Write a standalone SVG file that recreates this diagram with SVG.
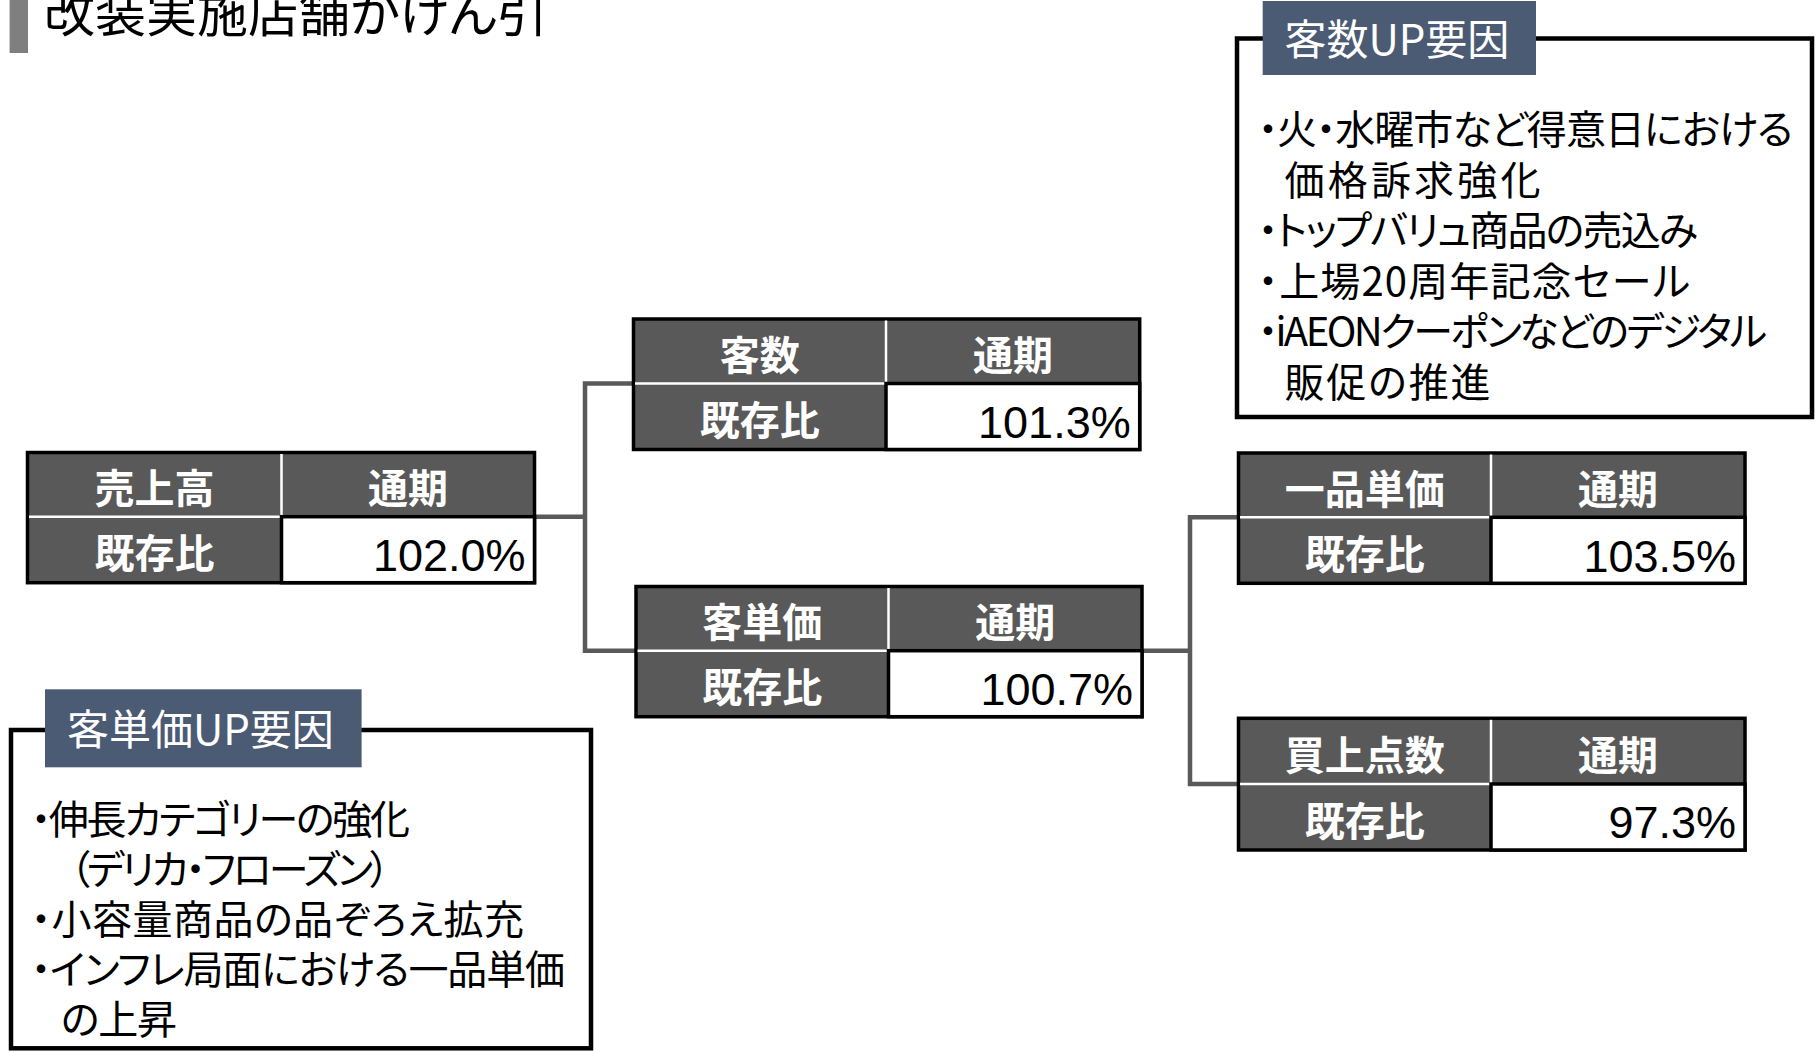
<svg xmlns="http://www.w3.org/2000/svg" width="1816" height="1052" viewBox="0 0 1816 1052">
<style>
  .ttl { font-family: 'Noto Sans CJK JP', sans-serif; font-size: 51px; fill: #000; font-feature-settings: "palt"; }
  .hd { font-family: 'Noto Sans CJK JP', sans-serif; font-weight: 700; font-size: 40px; fill: #fff; text-anchor: middle; }
  .val { font-family: 'Liberation Sans', Arial, sans-serif; font-size: 45px; fill: #000; text-anchor: end; }
  .tbl { fill: #595959; stroke: #000; stroke-width: 3.5; }
  .cell { fill: #fff; stroke: #000; stroke-width: 3.5; }
  .sep { stroke: #fff; stroke-width: 2.5; }
  .conn { fill: none; stroke: #5a5a5a; stroke-width: 4.5; }
  .box { fill: #fff; stroke: #000; stroke-width: 4.5; }
  .lbl { fill: #4B5B73; }
  .lbltxt { font-family: 'Noto Sans CJK JP', sans-serif; font-size: 42px; fill: #fff; }
  .body { font-family: 'Noto Sans CJK JP', sans-serif; font-size: 40px; fill: #000; font-feature-settings: "palt"; }
</style>

<g id="title">
  <rect x="9.6" y="0" width="18.4" height="53" fill="#7f7f7f"/>
  <text class="ttl" x="44" y="32">改装実施店舗かけん引</text>
</g>

<g id="connectors">
  <path class="conn" d="M534.5 516.7 H585 M633.5 383.5 H585 V650.7 H636"/>
  <path class="conn" d="M1142 650.7 H1190 M1238.5 517.3 H1190 V784 H1238.5"/>
</g>

<g id="node-sales">
  <rect class="tbl" x="27.5" y="452.5" width="507" height="130.2"/>
  <line class="sep" x1="281.5" y1="454" x2="281.5" y2="516.7"/>
  <line class="sep" x1="29" y1="516.7" x2="281.5" y2="516.7"/>
  <rect class="cell" x="281.5" y="516.7" width="253" height="66"/>
  <text class="hd" x="154.5" y="503">売上高</text>
  <text class="hd" x="408" y="503">通期</text>
  <text class="hd" x="154.5" y="568.2">既存比</text>
  <text class="val" x="525.5" y="571">102.0%</text>
</g>

<g id="node-customers">
  <rect class="tbl" x="633.5" y="319" width="506.2" height="130.5"/>
  <line class="sep" x1="886" y1="320.5" x2="886" y2="383.5"/>
  <line class="sep" x1="635" y1="383.5" x2="886" y2="383.5"/>
  <rect class="cell" x="886" y="383.5" width="253.7" height="66"/>
  <text class="hd" x="759.8" y="369.8">客数</text>
  <text class="hd" x="1012.9" y="369.8">通期</text>
  <text class="hd" x="759.8" y="435">既存比</text>
  <text class="val" x="1130.7" y="437.8">101.3%</text>
</g>

<g id="node-unit-price">
  <rect class="tbl" x="636" y="586.5" width="506" height="130.2"/>
  <line class="sep" x1="888.5" y1="588" x2="888.5" y2="650.7"/>
  <line class="sep" x1="637.5" y1="650.7" x2="888.5" y2="650.7"/>
  <rect class="cell" x="888.5" y="650.7" width="253.5" height="66"/>
  <text class="hd" x="762.3" y="637">客単価</text>
  <text class="hd" x="1015.3" y="637">通期</text>
  <text class="hd" x="762.3" y="702.2">既存比</text>
  <text class="val" x="1133" y="705">100.7%</text>
</g>

<g id="node-item-price">
  <rect class="tbl" x="1238.5" y="453" width="506.5" height="130.3"/>
  <line class="sep" x1="1491" y1="454.5" x2="1491" y2="517.3"/>
  <line class="sep" x1="1240" y1="517.3" x2="1491" y2="517.3"/>
  <rect class="cell" x="1491" y="517.3" width="254" height="66"/>
  <text class="hd" x="1364.8" y="503.6">一品単価</text>
  <text class="hd" x="1618" y="503.6">通期</text>
  <text class="hd" x="1364.8" y="568.8">既存比</text>
  <text class="val" x="1736" y="571.6">103.5%</text>
</g>

<g id="node-items">
  <rect class="tbl" x="1238.5" y="718.3" width="506.5" height="131.7"/>
  <line class="sep" x1="1491" y1="719.8" x2="1491" y2="784"/>
  <line class="sep" x1="1240" y1="784" x2="1491" y2="784"/>
  <rect class="cell" x="1491" y="784" width="254" height="66"/>
  <text class="hd" x="1364.8" y="770.3">買上点数</text>
  <text class="hd" x="1618" y="770.3">通期</text>
  <text class="hd" x="1364.8" y="835.5">既存比</text>
  <text class="val" x="1736" y="838.3">97.3%</text>
</g>

<g id="callout-customers">
  <rect class="box" x="1237" y="38.5" width="575" height="378.5"/>
  <rect class="lbl" x="1262.7" y="1" width="273.3" height="74"/>
  <text class="lbltxt" x="1284.5" y="55">客数UP要因</text>
  <text class="body">
    <tspan x="1258" y="144" textLength="535">・火・水曜市など得意日における</tspan>
    <tspan x="1284.5" y="194.6" textLength="256">価格訴求強化</tspan>
    <tspan x="1258" y="245.2" textLength="440">・トップバリュ商品の売込み</tspan>
    <tspan x="1258" y="295.8" textLength="432">・上場20周年記念セール</tspan>
    <tspan x="1258" y="346.4" textLength="509">・iAEONクーポンなどのデジタル</tspan>
    <tspan x="1284.5" y="397" textLength="206">販促の推進</tspan>
  </text>
</g>

<g id="callout-unit-price">
  <rect class="box" x="11" y="730" width="580" height="318.3"/>
  <rect class="lbl" x="45" y="689.3" width="316.6" height="78"/>
  <text class="lbltxt" x="67" y="745">客単価UP要因</text>
  <text class="body">
    <tspan x="31" y="834" textLength="379">・伸長カテゴリーの強化</tspan>
    <tspan x="70" y="884" textLength="320">（デリカ・フローズン）</tspan>
    <tspan x="31" y="934" textLength="493">・小容量商品の品ぞろえ拡充</tspan>
    <tspan x="31" y="984" textLength="534">・インフレ局面における一品単価</tspan>
    <tspan x="61" y="1034" textLength="116">の上昇</tspan>
  </text>
</g>
</svg>
